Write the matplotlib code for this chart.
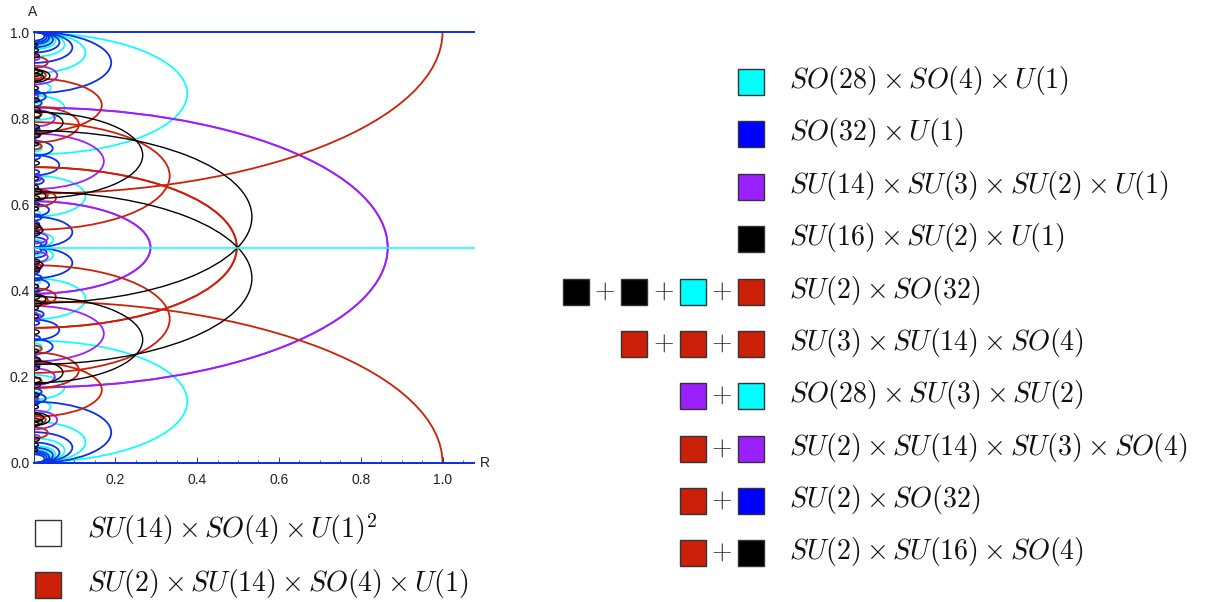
import matplotlib
matplotlib.use('Agg')
import matplotlib.pyplot as plt
from matplotlib.patches import Arc, Rectangle

plt.rcParams['mathtext.fontset'] = 'cm'
plt.rcParams['font.family'] = ['Liberation Sans', 'DejaVu Sans']

W, H = 1205, 602

RED = '#cc2008'
PURPLE = '#9b20ff'
CYAN = '#00ffff'
BLUE = '#0a30e8'
BLACK = '#000000'
BOX_BLUE = '#0000ff'

# arcs, upper half only (the plot is symmetric about A = 0.5)
# center on the A axis, radius along R
red_c = [1.0, 0.5, 0.666, 0.83, 0.785, 0.615, 0.622, 0.93, 0.895, 0.735, 0.76, 0.548, 0.9, 0.81]
red_r = [1.0, 0.497, 0.333, 0.167, 0.111, 0.055, 0.035, 0.035, 0.02, 0.02, 0.015, 0.012, 0.03, 0.02]

purple_c = [0.5, 0.5, 0.7, 0.9, 0.8, 0.522, 0.66, 0.94, 0.745, 0.85, 0.59, 0.545]
purple_r = [0.866, 0.286, 0.172, 0.058, 0.052, 0.035, 0.018, 0.015, 0.012, 0.012, 0.012, 0.02]

black_c = [0.571, 0.714, 0.79, 0.898, 0.54, 0.97, 0.958, 0.945, 0.905, 0.87, 0.842, 0.82, 0.807, 0.78, 0.76,
           0.74, 0.696, 0.66, 0.63, 0.615, 0.59, 0.55, 0.533, 0.895, 0.62, 0.91, 0.64]
black_r = [0.534, 0.267, 0.072, 0.04, 0.023, 0.01, 0.012, 0.014, 0.022, 0.012, 0.014, 0.016, 0.018, 0.014, 0.016,
           0.012, 0.014, 0.012, 0.02, 0.015, 0.012, 0.016, 0.016, 0.025, 0.03, 0.014, 0.012]

cyan_c = [0.857, 0.952, 0.971, 0.98, 0.984, 0.987, 0.619, 0.824, 0.87, 0.518, 0.509, 0.73, 0.66, 0.84, 0.58, 0.77]
cyan_r = [0.376, 0.127, 0.076, 0.054, 0.042, 0.035, 0.127, 0.076, 0.042, 0.048, 0.024, 0.02, 0.02, 0.016, 0.016, 0.014]

blue_c = [0.929, 0.964, 0.976, 0.982, 0.986, 0.988, 0.99, 0.5357, 0.691, 0.73, 0.587, 0.512, 0.507,
          0.85, 0.835, 0.765, 0.655, 0.57, 0.775, 0.86, 0.71, 0.6, 0.555, 0.675]
blue_r = [0.19, 0.095, 0.0635, 0.0476, 0.038, 0.032, 0.027, 0.095, 0.063, 0.047, 0.038, 0.032, 0.019,
          0.03, 0.02, 0.02, 0.025, 0.02, 0.015, 0.014, 0.016, 0.014, 0.014, 0.014]

# R radius to A half height of every arc
a_ratio = 0.375

# horizontal lines
line_a = [1.0, 0.0, 0.5]
line_col = [BLUE, BLUE, CYAN]
line_w = [1.4, 1.4, 1.1]

tick_r = [0.2, 0.4, 0.6, 0.8, 1.0]
tick_a = [0.0, 0.2, 0.4, 0.6, 0.8, 1.0]

# legend rows: colours of the boxes, then the group
rows = [
    ([CYAN], r'$SO(28)\times SO(4)\times U(1)$'),
    ([BOX_BLUE], r'$SO(32)\times U(1)$'),
    ([PURPLE], r'$SU(14)\times SU(3)\times SU(2)\times U(1)$'),
    ([BLACK], r'$SU(16)\times SU(2)\times U(1)$'),
    ([BLACK, BLACK, CYAN, RED], r'$SU(2)\times SO(32)$'),
    ([RED, RED, RED], r'$SU(3)\times SU(14)\times SO(4)$'),
    ([PURPLE, CYAN], r'$SO(28)\times SU(3)\times SU(2)$'),
    ([RED, PURPLE], r'$SU(2)\times SU(14)\times SU(3)\times SO(4)$'),
    ([RED, BOX_BLUE], r'$SU(2)\times SO(32)$'),
    ([RED, BLACK], r'$SU(2)\times SU(16)\times SO(4)$'),
]
row_y = [82, 134, 187, 239, 292, 344, 396, 449, 501, 553]
left_rows = [
    (['#ffffff'], r'$SU(14)\times SO(4)\times U(1)^2$'),
    ([RED], r'$SU(2)\times SU(14)\times SO(4)\times U(1)$'),
]
left_y = [533, 585]
left_base = [538, 591]

fig = plt.figure(figsize=(W / 100, H / 100), dpi=100)
ax = fig.add_axes([33.5 / W, 1 - 463 / H, 440.5 / W, 431 / H])


def draw_arcs(centers, radii, color, lw):
    for c, r in zip(centers, radii):
        for c2 in (c, 1 - c):
            ax.add_patch(Arc((0, c2), 2 * r, 2 * a_ratio * r, theta1=-90, theta2=90,
                             color=color, lw=lw))


draw_arcs(cyan_c, cyan_r, CYAN, 1.2)
draw_arcs(blue_c, blue_r, BLUE, 1.3)
draw_arcs(purple_c, purple_r, PURPLE, 1.3)
draw_arcs(red_c, red_r, RED, 1.3)
draw_arcs(black_c, black_r, BLACK, 1.0)

for a, col, lw in zip(line_a, line_col, line_w):
    ax.axhline(a, color=col, lw=lw, clip_on=False, zorder=4)

ax.set_xlim(0, 1.077)
ax.set_ylim(0, 1)
for s in ['top', 'right']:
    ax.spines[s].set_visible(False)
for s in ['left', 'bottom']:
    ax.spines[s].set_color('#333333')
    ax.spines[s].set_linewidth(0.7)
ax.set_xticks(tick_r)
ax.set_yticks(tick_a)
ax.set_xticklabels(['%.1f' % t for t in tick_r])
ax.set_yticklabels(['%.1f' % t for t in tick_a])
ax.set_xticks([0.05 * i for i in range(1, 22)], minor=True)
ax.set_yticks([0.05 * i for i in range(1, 20)], minor=True)
ax.tick_params(axis='both', which='major', direction='in', length=4, width=0.6, labelsize=10,
               colors='#222222', pad=7)
ax.tick_params(axis='y', which='major', pad=3)
ax.tick_params(axis='both', which='minor', direction='in', length=2, width=0.5, color='#333333')

# overlay in pixels for the axis names and the legend boxes
ov = fig.add_axes([0, 0, 1, 1])
ov.set_xlim(0, W)
ov.set_ylim(H, 0)
ov.axis('off')
ov.patch.set_alpha(0)
ov.text(33, 12, 'A', fontsize=10, ha='center', va='center', color='#222222')
ov.text(485, 463, 'R', fontsize=10, ha='center', va='center', color='#222222')


def box(x, y, color):
    ov.add_patch(Rectangle((x, y - 13), 26, 26, facecolor=color, edgecolor='#333333', lw=1.0))


box_x = [738, 680, 621, 563]
for (cols, label), y in zip(rows, row_y):
    for i, col in enumerate(reversed(cols)):
        box(box_x[i], y, col)
        if i < len(cols) - 1:
            ov.text(box_x[i] - 17, y - 1, r'$+$', fontsize=19, ha='center', va='center', color='#222222')
    ov.text(789, y + 6, label, fontsize=20.2, ha='left', va='baseline', color='#111111')

for (cols, label), y, b in zip(left_rows, left_y, left_base):
    ov.add_patch(Rectangle((35, y - 13), 26, 26, facecolor=cols[0], edgecolor='#333333', lw=1.0))
    ov.text(87, b, label, fontsize=20.2, ha='left', va='baseline', color='#111111')

fig.savefig('out.png', dpi=100)
